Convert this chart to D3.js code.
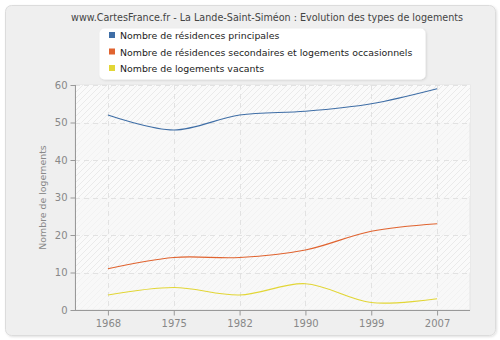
<!DOCTYPE html>
<html><head><meta charset="utf-8">
<script src="https://cdn.jsdelivr.net/npm/d3@7"></script>
<style>body{margin:0;background:#fff}svg{display:block}text{font-family:"DejaVu Sans",Verdana,sans-serif}</style>
</head><body><svg id="c" width="500" height="340"></svg>
<script>
const years = ["1968","1975","1982","1990","1999","2007"];
const principales = [52, 48, 52, 53, 55, 59];
const secondaires = [11, 14, 14, 16, 21, 23];
const vacants = [4, 6, 4, 7, 2, 3];
const seriesNames = ["Nombre de résidences principales","Nombre de résidences secondaires et logements occasionnels","Nombre de logements vacants"];
const seriesColors = ["#3f6ea6","#e0632f","#e2d636"];
const yTicks = [0,10,20,30,40,50,60];
const title = "www.CartesFrance.fr - La Lande-Saint-Siméon : Evolution des types de logements";
const yLabel = "Nombre de logements";

const svg = d3.select("#c");
const defs = svg.append("defs");
const f = defs.append("filter").attr("id","sh").attr("x","-5%").attr("y","-5%").attr("width","110%").attr("height","110%");
f.append("feDropShadow").attr("dx",1).attr("dy",1).attr("stdDeviation",1).attr("flood-color","#000").attr("flood-opacity",0.12);
const pat = defs.append("pattern").attr("id","hatch").attr("patternUnits","userSpaceOnUse").attr("width",6).attr("height",6);
pat.append("rect").attr("width",6).attr("height",6).attr("fill","#fafafa");
pat.append("path").attr("d","M-1,7 L7,-1 M-4,4 L4,-4 M2,10 L10,2").attr("stroke","#e6e6e6").attr("stroke-width",0.8);
const pat2 = defs.append("pattern").attr("id","hatch2").attr("patternUnits","userSpaceOnUse").attr("width",6).attr("height",6);
pat2.append("rect").attr("width",6).attr("height",6).attr("fill","#f8f8f8");
pat2.append("path").attr("d","M-1,7 L7,-1 M-4,4 L4,-4 M2,10 L10,2").attr("stroke","#f0f0f0").attr("stroke-width",0.8);

svg.append("rect").attr("x",5.5).attr("y",5.5).attr("width",490).attr("height",330).attr("rx",6)
  .attr("fill","#efefef").attr("stroke","#dcdcdc").attr("filter","url(#sh)");

const L=75, R=470, T=85, B=310;
const x = d3.scalePoint().domain(years).range([L,R]).padding(0.5);
const y = d3.scaleLinear().domain([0,60]).range([B,T]);

const g = svg.append("g");
g.append("rect").attr("x",L).attr("y",T).attr("width",R-L).attr("height",B-T).attr("fill","url(#hatch2)").attr("stroke","#e4e4e4");
for (let i=0;i<6;i++){
  const lo=yTicks[i], hi=yTicks[i+1];
  if (i%2===1) g.append("rect").attr("x",L).attr("y",y(hi)).attr("width",R-L).attr("height",y(lo)-y(hi)).attr("fill","url(#hatch)");
}
// grid
g.selectAll(".hg").data(yTicks.slice(1)).join("line").attr("x1",L).attr("x2",R)
  .attr("y1",d=>Math.round(y(d))+0.5).attr("y2",d=>Math.round(y(d))+0.5)
  .attr("stroke","#e2e2e2").attr("stroke-dasharray","5,4");
g.selectAll(".vg").data(years).join("line").attr("y1",T).attr("y2",B)
  .attr("x1",d=>Math.round(x(d))+0.5).attr("x2",d=>Math.round(x(d))+0.5)
  .attr("stroke","#e2e2e2").attr("stroke-dasharray","5,4");

// axes
const yA = svg.append("g").attr("transform",`translate(${L+0.5},0)`)
  .call(d3.axisLeft(y).tickValues(yTicks).tickSize(5).tickPadding(3));
const xA = svg.append("g").attr("transform",`translate(0,${B+0.5})`)
  .call(d3.axisBottom(x).tickSize(5).tickPadding(4));
[yA,xA].forEach(a=>{
  a.select(".domain").attr("stroke","#999");
  a.selectAll(".tick line").attr("stroke","#999");
  a.selectAll("text").attr("fill","#888").attr("font-size",10).attr("font-family","DejaVu Sans, sans-serif");
});
xA.select(".domain").attr("d",`M${L},0H${R}`);
yA.select(".domain").attr("d",`M0,${B}V${T}`);

svg.append("text").attr("transform",`translate(46,${(T+B)/2}) rotate(-90)`).attr("text-anchor","middle")
  .attr("font-size",9.4).attr("fill","#888").text(yLabel);

// lines
const line = d3.line().x((d,i)=>x(years[i])).y(d=>y(d)).curve(d3.curveCatmullRom.alpha(0.5));
[principales,secondaires,vacants].forEach((s,k)=>{
  svg.append("path").attr("d",line(s)).attr("fill","none").attr("stroke",seriesColors[k]).attr("stroke-width",1.2);
});

// title
svg.append("text").attr("x",267).attr("y",21).attr("text-anchor","middle").attr("font-size",9.6).attr("fill","#444").text(title);

// legend
svg.append("rect").attr("x",99.5).attr("y",28.5).attr("width",326).attr("height",51).attr("rx",5)
  .attr("fill","#fff").attr("filter","url(#sh)");
seriesNames.forEach((n,i)=>{
  svg.append("rect").attr("x",109).attr("y",32+i*16.5).attr("width",6).attr("height",6).attr("fill",seriesColors[i]);
  svg.append("text").attr("x",120).attr("y",39+i*16.5).attr("font-size",9.4).attr("fill","#222").text(n);
});
</script></body></html>
